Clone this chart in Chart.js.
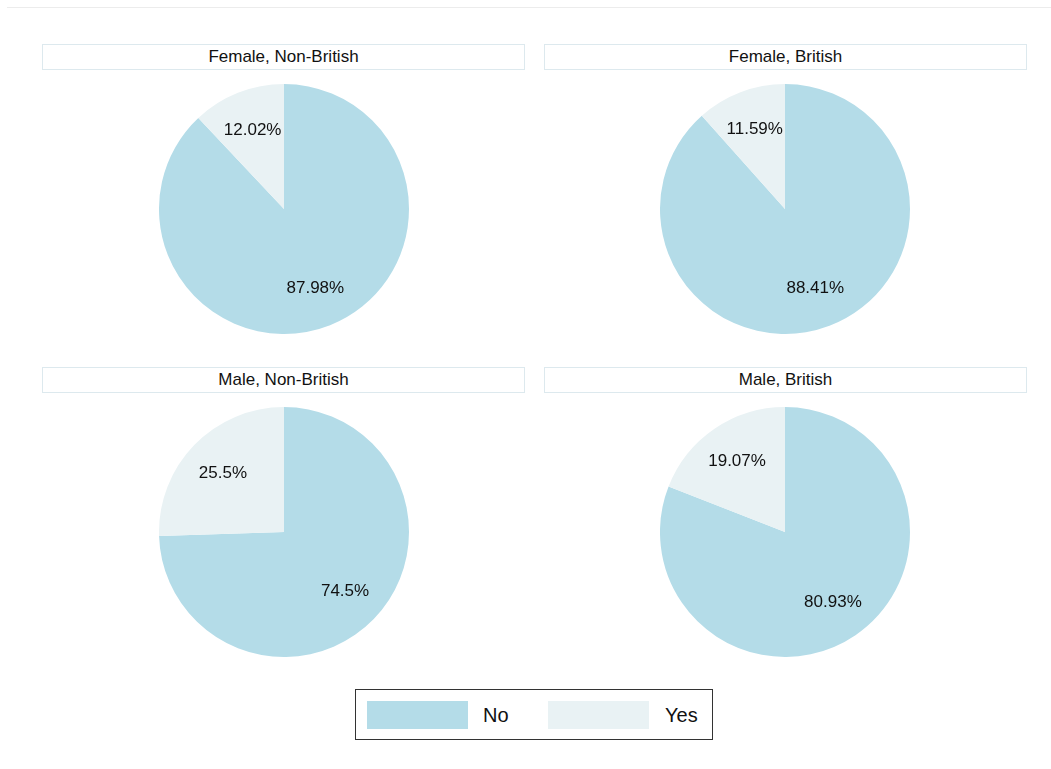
<!DOCTYPE html>
<html>
<head>
<meta charset="utf-8">
<script src="https://cdn.jsdelivr.net/npm/chart.js@4"></script>
<style>
  body { margin: 0; background: #fff; font-family: "Liberation Sans", Arial, sans-serif; }
  #page { position: relative; width: 1051px; height: 769px; overflow: hidden; }
  .topline { position: absolute; left: 7px; right: 0; top: 7px; height: 1px; background: #ececec; }
  .title { position: absolute; width: 481px; height: 24px; border: 1.5px solid #dde9ee; box-sizing: content-box;
           font-size: 17px; line-height: 24px; text-align: center; color: #111; }
  .pie { position: absolute; width: 250px; height: 250px; }
  #legend { position: absolute; left: 355px; top: 689px; width: 356px; height: 49px; border: 1.5px solid #333; }
  .sw { position: absolute; top: 11px; width: 101px; height: 28px; }
  .lt { position: absolute; top: 11px; font-size: 20px; line-height: 28px; color: #111; }
</style>
</head>
<body>
<div id="page">
  <div class="topline"></div>
  <div id="legend">
    <div class="sw" style="left:11px;background:#b4dce8"></div>
    <div class="lt" style="left:127px">No</div>
    <div class="sw" style="left:192px;background:#e9f2f4"></div>
    <div class="lt" style="left:309px">Yes</div>
  </div>
</div>
<script>
// data
const categories = ["No", "Yes"];
const panelTitles = ["Female, Non-British", "Female, British", "Male, Non-British", "Male, British"];
const noPct = [87.98, 88.41, 74.5, 80.93];
const yesPct = [12.02, 11.59, 25.5, 19.07];
const sliceColors = ["#b4dce8", "#e9f2f4"];

// panel centres and title box left edges
const centres = [[284, 209], [785, 209], [284, 532], [785, 532]];
const titleLeft = [42, 544, 42, 544];

const labelPlugin = {
  id: "sliceLabels",
  afterDatasetsDraw(chart) {
    const ctx = chart.ctx;
    const meta = chart.getDatasetMeta(0);
    const vals = chart.data.datasets[0].data;
    ctx.save();
    ctx.font = '17px "Liberation Sans", Arial, sans-serif';
    ctx.fillStyle = "#111";
    ctx.textAlign = "center";
    ctx.textBaseline = "middle";
    meta.data.forEach((arc, i) => {
      const mid = (arc.startAngle + arc.endAngle) / 2;
      const r = arc.outerRadius * 0.68;
      ctx.fillText(vals[i] + "%", arc.x + Math.cos(mid) * r, arc.y + Math.sin(mid) * r);
    });
    ctx.restore();
  }
};

const page = document.getElementById("page");
panelTitles.forEach((title, i) => {
  const [cx, cy] = centres[i];
  const t = document.createElement("div");
  t.className = "title";
  t.style.left = titleLeft[i] + "px";
  t.style.top = (cy - 165) + "px";
  t.textContent = title;
  page.appendChild(t);

  const box = document.createElement("div");
  box.className = "pie";
  box.style.left = (cx - 125) + "px";
  box.style.top = (cy - 125) + "px";
  const canvas = document.createElement("canvas");
  box.appendChild(canvas);
  page.appendChild(box);

  new Chart(canvas, {
    type: "pie",
    data: {
      labels: categories,
      datasets: [{
        data: [noPct[i], yesPct[i]],
        backgroundColor: sliceColors,
        borderWidth: 0
      }]
    },
    options: {
      responsive: true,
      maintainAspectRatio: false,
      animation: false,
      layout: { padding: 0 },
      plugins: { legend: { display: false }, tooltip: { enabled: false } }
    },
    plugins: [labelPlugin]
  });
});
</script>
</body>
</html>
